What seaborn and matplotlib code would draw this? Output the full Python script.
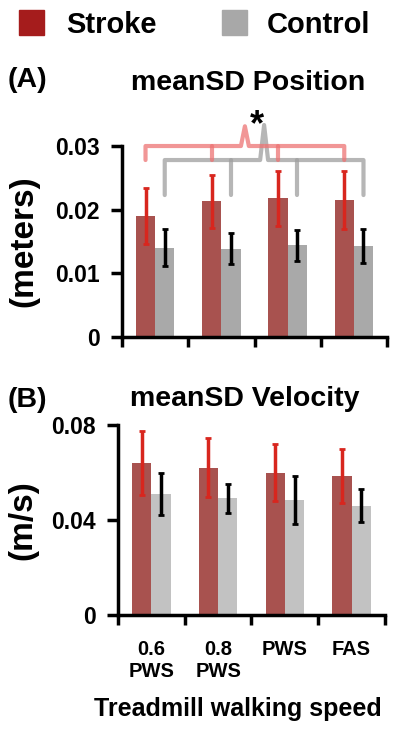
import numpy as np
import pandas as pd
import matplotlib
matplotlib.use("Agg")
import matplotlib.pyplot as plt
import seaborn as sns

speeds = ["0.6\nPWS", "0.8\nPWS", "PWS", "FAS"]
groups = ["Stroke", "Control"]

pos_stroke = [0.0190, 0.0213, 0.0218, 0.0215]
pos_stroke_err = [0.0044, 0.0041, 0.0043, 0.0046]
pos_control = [0.0140, 0.0139, 0.0144, 0.0143]
pos_control_err = [0.0029, 0.0025, 0.0024, 0.0027]

vel_stroke = [0.0639, 0.0620, 0.0599, 0.0585]
vel_stroke_err = [0.0135, 0.0125, 0.0121, 0.0115]
vel_control = [0.0509, 0.0491, 0.0484, 0.0460]
vel_control_err = [0.0087, 0.0062, 0.0102, 0.0070]

sns.set_theme(style="ticks")
plt.rcParams["font.family"] = ["Liberation Sans", "DejaVu Sans"]
plt.rcParams["font.weight"] = "bold"
for key in ["text.color", "axes.labelcolor", "xtick.color", "ytick.color"]:
    plt.rcParams[key] = "black"

BAR_RED = "#a8524f"
ERR_RED = "#d8261e"


def panel(ax, stroke, stroke_err, control, control_err, ctrl_color, yticks, ylabels, ylabel, lpad):
    df = pd.DataFrame({
        "speed": speeds * 2,
        "group": ["Stroke"] * 4 + ["Control"] * 4,
        "value": stroke + control,
    })
    sns.barplot(data=df, x="speed", y="value", hue="group", order=speeds,
                hue_order=groups, palette=[BAR_RED, ctrl_color], width=0.58,
                errorbar=None, legend=False, ax=ax, saturation=1, linewidth=0)
    centers = {}
    bars = [p for p in ax.patches if p.get_height() > 0]
    for k, (vals, errs, col) in enumerate([(stroke, stroke_err, ERR_RED),
                                           (control, control_err, "black")]):
        xs = []
        for i in range(4):
            p = bars[k * 4 + i]
            xs.append(p.get_x() + p.get_width() / 2)
        ax.errorbar(xs, vals, yerr=errs, fmt="none", ecolor=col, elinewidth=2.5,
                    capsize=2.5, capthick=2)
        centers[groups[k]] = xs
    ax.set_xlim(-0.5, 3.5)
    ax.set_ylim(0, yticks[-1])
    ax.set_yticks(yticks)
    ax.set_yticklabels(ylabels)
    ax.set_xlabel("")
    ax.set_ylabel(ylabel, fontsize=24, fontweight="bold", labelpad=lpad)
    ax.set_xticks(np.arange(-0.5, 4.0, 1.0), minor=True)
    ax.tick_params(axis="x", which="major", length=0, labelsize=14.5, pad=18)
    ax.tick_params(axis="x", which="minor", length=7, width=2.5, color="black", direction="out")
    ax.tick_params(axis="y", length=8, width=2.5, color="black", labelsize=16.5, pad=8)
    for lab in ax.get_yticklabels() + ax.get_xticklabels():
        lab.set_fontweight("bold")
    sns.despine(ax=ax)
    for s in ["left", "bottom"]:
        ax.spines[s].set_linewidth(2.5)
        ax.spines[s].set_color("black")
    return centers


fig = plt.figure(figsize=(4.0, 7.36), dpi=100)

axA = fig.add_axes([0.305, 0.542, 0.6625, 0.2596])
cA = panel(axA, pos_stroke, pos_stroke_err, pos_control, pos_control_err,
           "#a9a9a9", [0, 0.01, 0.02, 0.03], ["0", "0.01", "0.02", "0.03"], "(meters)", 11)
axA.set_xticklabels([])

axB = fig.add_axes([0.295, 0.1644, 0.6675, 0.2582])
panel(axB, vel_stroke, vel_stroke_err, vel_control, vel_control_err,
      "#c2c2c2", [0, 0.04, 0.08], ["0", "0.04", "0.08"], "(m/s)", 9)
axB.set_xlabel("Treadmill walking speed", fontsize=18, fontweight="bold")
axB.xaxis.set_label_coords(0.45, -0.43)


def brace(ax, xs, y_top, y_end, y_spike, color):
    mid = (xs[0] + xs[-1]) / 2
    kw = dict(color=color, lw=3, clip_on=False, solid_capstyle="round",
              solid_joinstyle="round")
    ax.plot([xs[0], xs[0], mid - 0.06, mid, mid + 0.06, xs[-1], xs[-1]],
            [y_end, y_top, y_top, y_spike, y_top, y_top, y_end], **kw)
    for x in xs[1:-1]:
        ax.plot([x, x], [y_top, y_end], **kw)


brace(axA, cA["Control"], 0.0278, 0.0223, 0.0333, (0.62, 0.62, 0.62, 0.75))
brace(axA, cA["Stroke"], 0.0300, 0.0278, 0.0331, (0.93, 0.45, 0.45, 0.75))
axA.text(1.53, 0.0332, "*", ha="center", va="center", fontsize=26,
         fontweight="bold", clip_on=False)

axA.set_title("meanSD Position", fontsize=20.5, fontweight="bold", pad=40, x=0.475)
axB.set_title("meanSD Velocity", fontsize=20.5, fontweight="bold", pad=14, x=0.475)
fig.text(0.02, 0.891, "(A)", fontsize=20.5, fontweight="bold", va="center")
fig.text(0.02, 0.457, "(B)", fontsize=20.5, fontweight="bold", va="center")

# legend
fig.patches.append(plt.Rectangle((0.047, 0.952), 0.0625, 0.034, transform=fig.transFigure,
                                 color="#a51c1c", figure=fig))
fig.text(0.166, 0.966, "Stroke", fontsize=21, fontweight="bold", va="center")
fig.patches.append(plt.Rectangle((0.555, 0.952), 0.0625, 0.034, transform=fig.transFigure,
                                 color="#a8a8a8", figure=fig))
fig.text(0.666, 0.966, "Control", fontsize=21, fontweight="bold", va="center")

fig.savefig("out.png", dpi=100)
